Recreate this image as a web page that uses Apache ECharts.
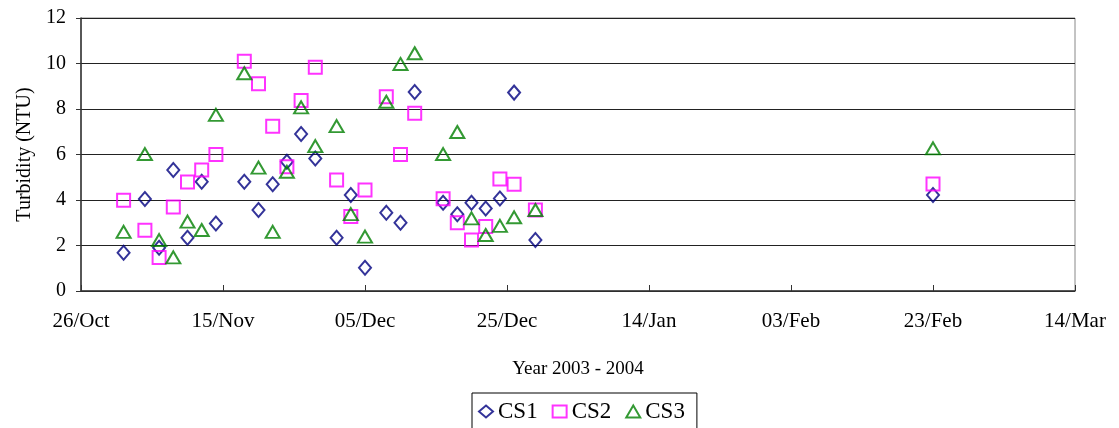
<!DOCTYPE html>
<html>
<head>
<meta charset="utf-8">
<script src="https://cdn.jsdelivr.net/npm/echarts@6/dist/echarts.min.js"></script>
<style>
  body { margin: 0; background: #fff; }
  #main { width: 1119px; height: 428px; }
</style>
</head>
<body>
<div id="main"></div>
<script>
  // sampling dates (2003 - 2004)
  var dates = [
    '2003-11-01', '2003-11-04', '2003-11-06', '2003-11-08', '2003-11-10', '2003-11-12', '2003-11-14',
    '2003-11-18', '2003-11-20', '2003-11-22', '2003-11-24', '2003-11-26', '2003-11-28',
    '2003-12-01', '2003-12-03', '2003-12-05', '2003-12-08', '2003-12-10', '2003-12-12',
    '2003-12-16', '2003-12-18', '2003-12-20', '2003-12-22', '2003-12-24', '2003-12-26', '2003-12-29',
    '2004-02-23'
  ];
  var cs1 = [1.68, 4.04, 1.9, 5.32, 2.34, 4.8, 2.97, 4.8, 3.56, 4.69, 5.68, 6.9, 5.82,
    2.34, 4.22, 1.02, 3.44, 3.0, 8.75, 3.88, 3.37, 3.88, 3.63, 4.07, 8.72, 2.24, 4.22];
  var cs2 = [3.99, 2.67, 1.47, 3.69, 4.79, 5.32, 6.0, 10.1, 9.11, 7.24, 5.46, 8.37, 9.83,
    4.88, 3.27, 4.44, 8.54, 6.0, 7.81, 4.06, 3.0, 2.24, 2.83, 4.92, 4.69, 3.56, 4.7];
  var cs3 = [2.6, 6.02, 2.24, 1.48, 3.05, 2.68, 7.74, 9.57, 5.42, 2.6, 5.24, 8.07, 6.37,
    7.25, 3.38, 2.39, 8.32, 9.98, 10.45, 6.02, 6.99, 3.19, 2.46, 2.86, 3.24, 3.56, 6.27];
  var tickLabels = ['26/Oct', '15/Nov', '05/Dec', '25/Dec', '14/Jan', '03/Feb', '23/Feb', '14/Mar'];

  var start = Date.UTC(2003, 9, 26);
  var oneDay = 24 * 3600 * 1000;
  function dayOf(s) {
    var p = s.split('-');
    return (Date.UTC(+p[0], +p[1] - 1, +p[2]) - start) / oneDay;
  }
  function pairs(vals) {
    return vals.map(function (v, i) { return [dayOf(dates[i]), v]; });
  }

  var font = '"Liberation Serif", "Times New Roman", serif';

  function scatter(name, symbol, size, color, vals) {
    return {
      name: name,
      type: 'scatter',
      symbol: symbol,
      symbolSize: size,
      itemStyle: { color: 'rgba(255,255,255,0)', borderColor: color, borderWidth: 2 },
      emphasis: { disabled: true },
      data: pairs(vals)
    };
  }

  var chart = echarts.init(document.getElementById('main'));
  chart.setOption({
    animation: false,
    textStyle: { fontFamily: font },
    grid: {
      left: 81, right: 44, top: 18, bottom: 137,
      show: true, borderColor: '#888', borderWidth: 1
    },
    legend: {
      left: 472, top: 393,
      padding: [7, 12, 12, 6],
      borderColor: '#000', borderWidth: 1,
      itemWidth: 14, itemHeight: 12, itemGap: 14,
      textStyle: { fontFamily: font, fontSize: 23, color: '#000' },
      data: ['CS1', 'CS2', 'CS3']
    },
    xAxis: {
      type: 'value',
      min: 0, max: 140, interval: 20,
      name: 'Year 2003 - 2004',
      nameLocation: 'middle',
      nameGap: 69,
      nameTextStyle: { fontFamily: font, fontSize: 19, color: '#000' },
      axisLine: { lineStyle: { color: '#333', width: 1.5 } },
      axisTick: { inside: true, length: 6, lineStyle: { color: '#333' } },
      axisLabel: {
        margin: 20, fontSize: 21, color: '#000', fontFamily: font,
        formatter: function (v) { return tickLabels[Math.round(v / 20)]; }
      },
      splitLine: { show: false }
    },
    yAxis: {
      type: 'value',
      min: 0, max: 12, interval: 2,
      name: 'Turbidity (NTU)',
      nameLocation: 'middle',
      nameGap: 45,
      nameTextStyle: { fontFamily: font, fontSize: 20, color: '#000' },
      axisLine: { show: true, lineStyle: { color: '#333', width: 1.5 } },
      axisTick: { show: true, length: 5, lineStyle: { color: '#333' } },
      axisLabel: { margin: 15, fontSize: 20, color: '#000', fontFamily: font },
      splitLine: { lineStyle: { color: '#222', width: 1 } }
    },
    series: [
      scatter('CS1', 'diamond', [12, 14], '#000080', cs1),
      scatter('CS2', 'rect', 13, '#ff00ff', cs2),
      scatter('CS3', 'triangle', [14, 12], '#008000', cs3)
    ]
  });
</script>
</body>
</html>
